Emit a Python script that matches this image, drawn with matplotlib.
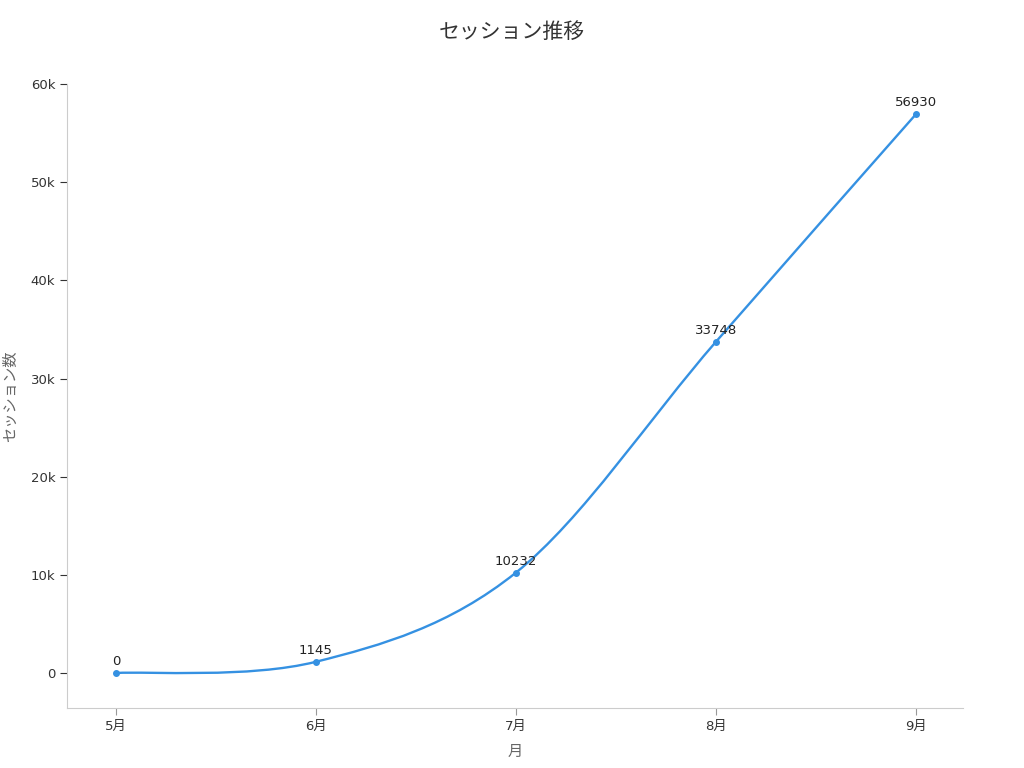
import numpy as np
import matplotlib
matplotlib.use("Agg")
import matplotlib.pyplot as plt
from matplotlib.path import Path
import matplotlib.patches as mpatches

plt.rcParams['font.family'] = ['DejaVu Sans', 'Noto Sans CJK JP']

months = ["5月", "6月", "7月", "8月", "9月"]
sessions = [0, 1145, 10232, 33748, 56930]
yticks = [0, 10000, 20000, 30000, 40000, 50000, 60000]
ytick_labels = ["0", "10k", "20k", "30k", "40k", "50k", "60k"]

LINE_COLOR = "#3591e2"
AXIS_COLOR = "#cccccc"


# smooth line through the points (catmull-rom -> bezier segments)
def smoothPath(xs, ys, t=0.5):
    pts = np.column_stack([xs, ys]).astype(float)
    n = len(pts)
    verts = [pts[0]]
    codes = [Path.MOVETO]
    for i in range(n - 1):
        p0 = pts[i - 1] if i > 0 else pts[i]
        p1 = pts[i]
        p2 = pts[i + 1]
        p3 = pts[i + 2] if i + 2 < n else pts[i + 1]
        c1 = p1 + (p2 - p0) * t / 3.0
        c2 = p2 - (p3 - p1) * t / 3.0
        verts += [c1, c2, p2]
        codes += [Path.CURVE4, Path.CURVE4, Path.CURVE4]
    return Path(verts, codes)


fig = plt.figure(figsize=(10.24, 7.68), dpi=100)
ax = fig.add_axes([67 / 1024, 60 / 768, 896 / 1024, 624 / 768])

x = np.arange(len(months))
path = smoothPath(x, sessions, t=0.5)
ax.add_patch(mpatches.PathPatch(path, facecolor="none", edgecolor=LINE_COLOR, lw=1.7, zorder=3))
ax.plot(x, sessions, "o", color=LINE_COLOR, ms=4, zorder=4)

for xi, v in zip(x, sessions):
    ax.annotate(str(v), (xi, v), xytext=(0, 3.5), textcoords="offset points",
                ha="center", va="bottom", fontsize=9.5, color="#222222")

ax.set_xlim(-0.245, 4.235)
ax.set_ylim(-3565, 60000)
ax.set_xticks(x)
ax.set_xticklabels(months)
ax.set_yticks(yticks)
ax.set_yticklabels(ytick_labels)

for s in ["top", "right"]:
    ax.spines[s].set_visible(False)
for s in ["left", "bottom"]:
    ax.spines[s].set_color(AXIS_COLOR)
ax.tick_params(axis="x", colors="#333333", labelsize=9.5, length=5, color="#999999")
ax.tick_params(axis="y", colors="#333333", labelsize=9.5, length=5, color="#333333")

ax.set_xlabel("月", fontsize=11, color="#666666", labelpad=8)
ax.set_ylabel("セッション数", fontsize=11, color="#666666", labelpad=9)
fig.text(0.5, 1 - 32 / 768, "セッション推移", ha="center", va="center", fontsize=15, color="#333333")

fig.savefig("out.png", dpi=100)
